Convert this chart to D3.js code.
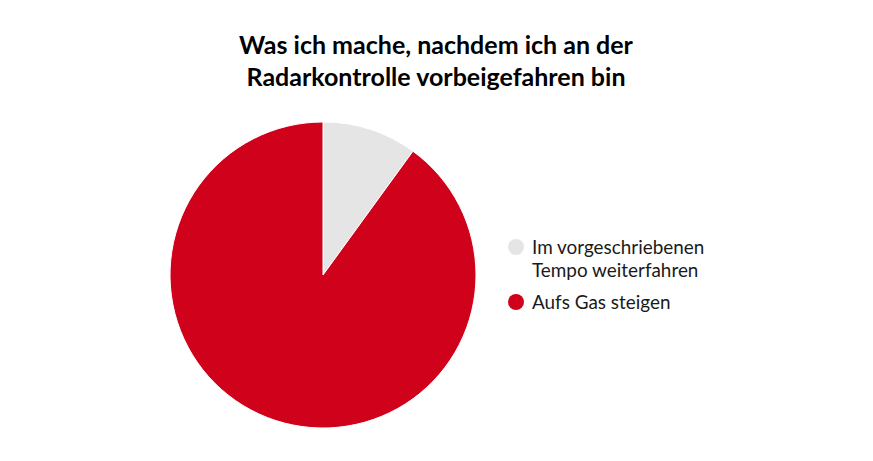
<!DOCTYPE html>
<html><head><meta charset="utf-8">
<script src="https://cdn.jsdelivr.net/npm/d3@7"></script>
<style>body{margin:0;background:#fff}svg{display:block}</style>
</head><body>
<svg id="c" width="873" height="461"></svg>
<script>
const titleLines = ["Was ich mache, nachdem ich an der", "Radarkontrolle vorbeigefahren bin"];
const categories = ["Im vorgeschriebenen Tempo weiterfahren", "Aufs Gas steigen"];
const legendLines = [["Im vorgeschriebenen", "Tempo weiterfahren"], ["Aufs Gas steigen"]];
const values = [10, 90];
const colors = ["#e5e5e5", "#d0021b"];

const svg = d3.select("#c");
const font = "Lato, 'Open Sans', sans-serif";

svg.append("g").selectAll("text").data(titleLines).join("text")
  .attr("x", 436).attr("y", (d,i)=>54 + i*32)
  .attr("text-anchor","middle")
  .attr("font-family", font).attr("font-weight","bold").attr("font-size", 25)
  .attr("fill","#000").text(d=>d);

const cx = 323, cy = 275, r = 153;
const pie = d3.pie().sort(null).value(d=>d)(values);
const arc = d3.arc().innerRadius(0).outerRadius(r);
const color = d3.scaleOrdinal().domain(categories).range(colors);
svg.append("g").attr("transform",`translate(${cx},${cy})`)
  .selectAll("path").data(pie).join("path")
  .attr("d", arc).attr("fill",(d,i)=>color(categories[i]))
  .attr("stroke","#fff").attr("stroke-width",1);

const lg = svg.append("g");
const ys = [247, 302];
categories.forEach((c,i)=>{
  lg.append("circle").attr("cx",516).attr("cy",ys[i]).attr("r",8).attr("fill",color(c));
  legendLines[i].forEach((t,j)=>{
    lg.append("text").attr("x",532).attr("y",ys[i]+7+j*23)
      .attr("font-family",font).attr("font-size",18.9).attr("fill","#1a1a1a").text(t);
  });
});
</script>
</body></html>
